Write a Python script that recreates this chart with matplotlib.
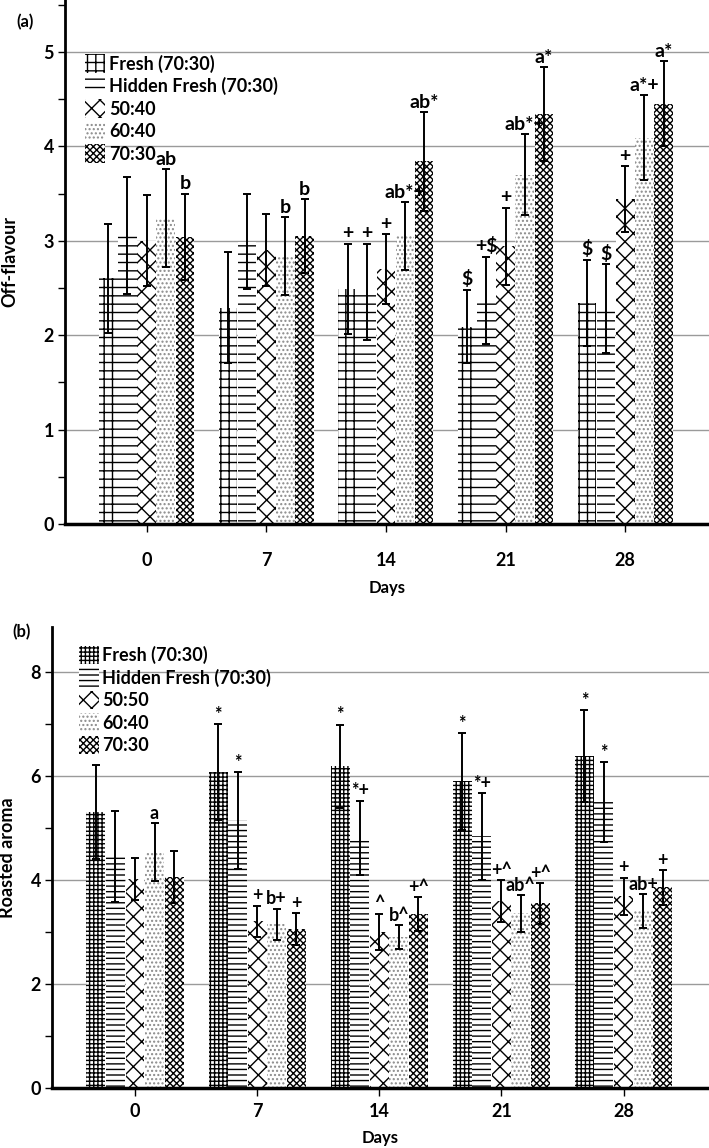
import matplotlib
matplotlib.use("Agg")
import matplotlib.pyplot as plt
import numpy as np

plt.rcParams['font.family'] = ['Lato', 'DejaVu Sans']
plt.rcParams['font.weight'] = 'bold'
plt.rcParams['hatch.linewidth'] = 1.0

days = ['0', '7', '14', '21', '28']

# panel (a) off-flavour
labels_a = ['Fresh (70:30)', 'Hidden Fresh (70:30)', '50:40', '60:40', '70:30']
off_mean = [
    [2.60, 2.29, 2.49, 2.09, 2.34],   # Fresh
    [3.06, 2.99, 2.46, 2.37, 2.28],   # Hidden Fresh
    [3.00, 2.90, 2.70, 2.94, 3.44],   # 50:40
    [3.24, 2.84, 3.05, 3.70, 4.09],   # 60:40
    [3.04, 3.05, 3.84, 4.34, 4.45],   # 70:30
]
off_err = [
    [0.58, 0.59, 0.48, 0.39, 0.46],
    [0.62, 0.50, 0.51, 0.46, 0.47],
    [0.48, 0.38, 0.37, 0.41, 0.35],
    [0.52, 0.41, 0.36, 0.43, 0.45],
    [0.46, 0.39, 0.52, 0.50, 0.45],
]
off_sig = [
    ['', '', '+', '$', '$'],
    ['', '', '+', '+$', '$'],
    ['', '', '+', '+', '+'],
    ['ab', 'b', 'ab*+', 'ab*+', 'a*+'],
    ['b', 'b', 'ab*', 'a*', 'a*'],
]

# panel (b) roasted aroma
labels_b = ['Fresh (70:30)', 'Hidden Fresh (70:30)', '50:50', '60:40', '70:30']
roast_mean = [
    [5.31, 6.08, 6.19, 5.90, 6.39],
    [4.45, 5.15, 4.81, 4.84, 5.50],
    [4.02, 3.21, 3.00, 3.60, 3.69],
    [4.54, 3.15, 2.90, 3.36, 3.40],
    [4.06, 3.06, 3.35, 3.55, 3.86],
]
roast_err = [
    [0.90, 0.92, 0.80, 0.93, 0.88],
    [0.88, 0.93, 0.72, 0.83, 0.77],
    [0.40, 0.30, 0.35, 0.40, 0.36],
    [0.56, 0.30, 0.23, 0.35, 0.33],
    [0.50, 0.30, 0.32, 0.39, 0.33],
]
roast_sig = [
    ['', '*', '*', '*', '*'],
    ['', '*', '*+', '*+', '*'],
    ['', '+', '^', '+^', '+'],
    ['a', 'b+', 'b^', 'ab^', 'ab+'],
    ['', '+', '+^', '+^', '+'],
]

hatch_a = ['++', '--', 'xx', '....', 'xxxxx']
hatch_b = ['++++', '---', 'xx', '....', 'xxxxx']
hatch_col = ['black', 'black', 'black', '#8a8a8a', 'black']


def draw_panel(ax, means, errs, sigs, labels, hatches, ymax, major, minor, tpad, lpad, afs):
    x = np.arange(len(days))
    w = 0.16
    for i in range(len(means)):
        pos = x + (i - 2) * w
        ax.bar(pos, means[i], width=w * 0.97, color='white', edgecolor=hatch_col[i],
               hatch=hatches[i], linewidth=0, label=labels[i], zorder=2)
        ax.errorbar(pos, means[i], yerr=errs[i], fmt='none', ecolor='black',
                    elinewidth=1.4, capsize=3, capthick=1.4, zorder=3)
        for j in range(len(days)):
            if sigs[i][j]:
                ax.annotate(sigs[i][j], (pos[j], means[i][j] + errs[i][j]),
                            xytext=(0, 1), textcoords='offset points',
                            ha='center', va='bottom', fontsize=afs,
                            fontweight='bold', zorder=4)
    ax.set_xlim(-0.68, 4.7)
    ax.set_ylim(0, ymax)
    ax.set_xticks(x)
    ax.set_xticklabels(days, fontsize=13, fontweight='bold')
    ax.set_yticks(np.arange(0, ymax, major))
    ax.set_yticks(np.arange(minor, ymax, major), minor=True)
    ax.tick_params(axis='y', which='both', direction='out', length=5, width=1,
                   labelsize=13, pad=3)
    ax.tick_params(axis='x', direction='out', length=6, width=1, pad=tpad)
    ax.yaxis.grid(True, which='major', color='#9a9a9a', linewidth=1, zorder=0)
    ax.set_axisbelow(True)
    for s in ['top', 'right']:
        ax.spines[s].set_visible(False)
    ax.spines['left'].set_linewidth(2)
    ax.spines['bottom'].set_linewidth(2.5)
    ax.set_xlabel('Days', fontsize=12, fontweight='bold', labelpad=lpad)


fig = plt.figure(figsize=(7.09, 11.48), dpi=100)

ax1 = fig.add_axes([0.092, 0.5436, 0.908, 0.4564])
draw_panel(ax1, off_mean, off_err, off_sig, labels_a, hatch_a, 5.55, 1, 0.5, 14, 8, 14)
ax1.set_ylabel('Off-flavour', fontsize=13, fontweight='bold', labelpad=18)
ax1.legend(loc='upper left', bbox_to_anchor=(0.02, 0.91), frameon=False,
           fontsize=13, handlelength=1.1, handleheight=1.2, handletextpad=0.2,
           labelspacing=0.22, borderaxespad=0)

ax2 = fig.add_axes([0.0733, 0.0523, 0.9267, 0.4015])
draw_panel(ax2, roast_mean, roast_err, roast_sig, labels_b, hatch_b, 8.87, 2, 1, 5, 7, 13)
ax2.set_ylabel('Roasted aroma', fontsize=13, fontweight='bold', labelpad=10)
ax2.legend(loc='upper left', bbox_to_anchor=(0.03, 0.975), frameon=False,
           fontsize=13, handlelength=1.1, handleheight=1.2, handletextpad=0.2,
           labelspacing=0.22, borderaxespad=0)

fig.text(0.035, 0.981, '(a)', fontsize=12, fontweight='bold', ha='center', va='center')
fig.text(0.031, 0.4495, '(b)', fontsize=12, fontweight='bold', ha='center', va='center')

fig.savefig('out.png', dpi=100)
